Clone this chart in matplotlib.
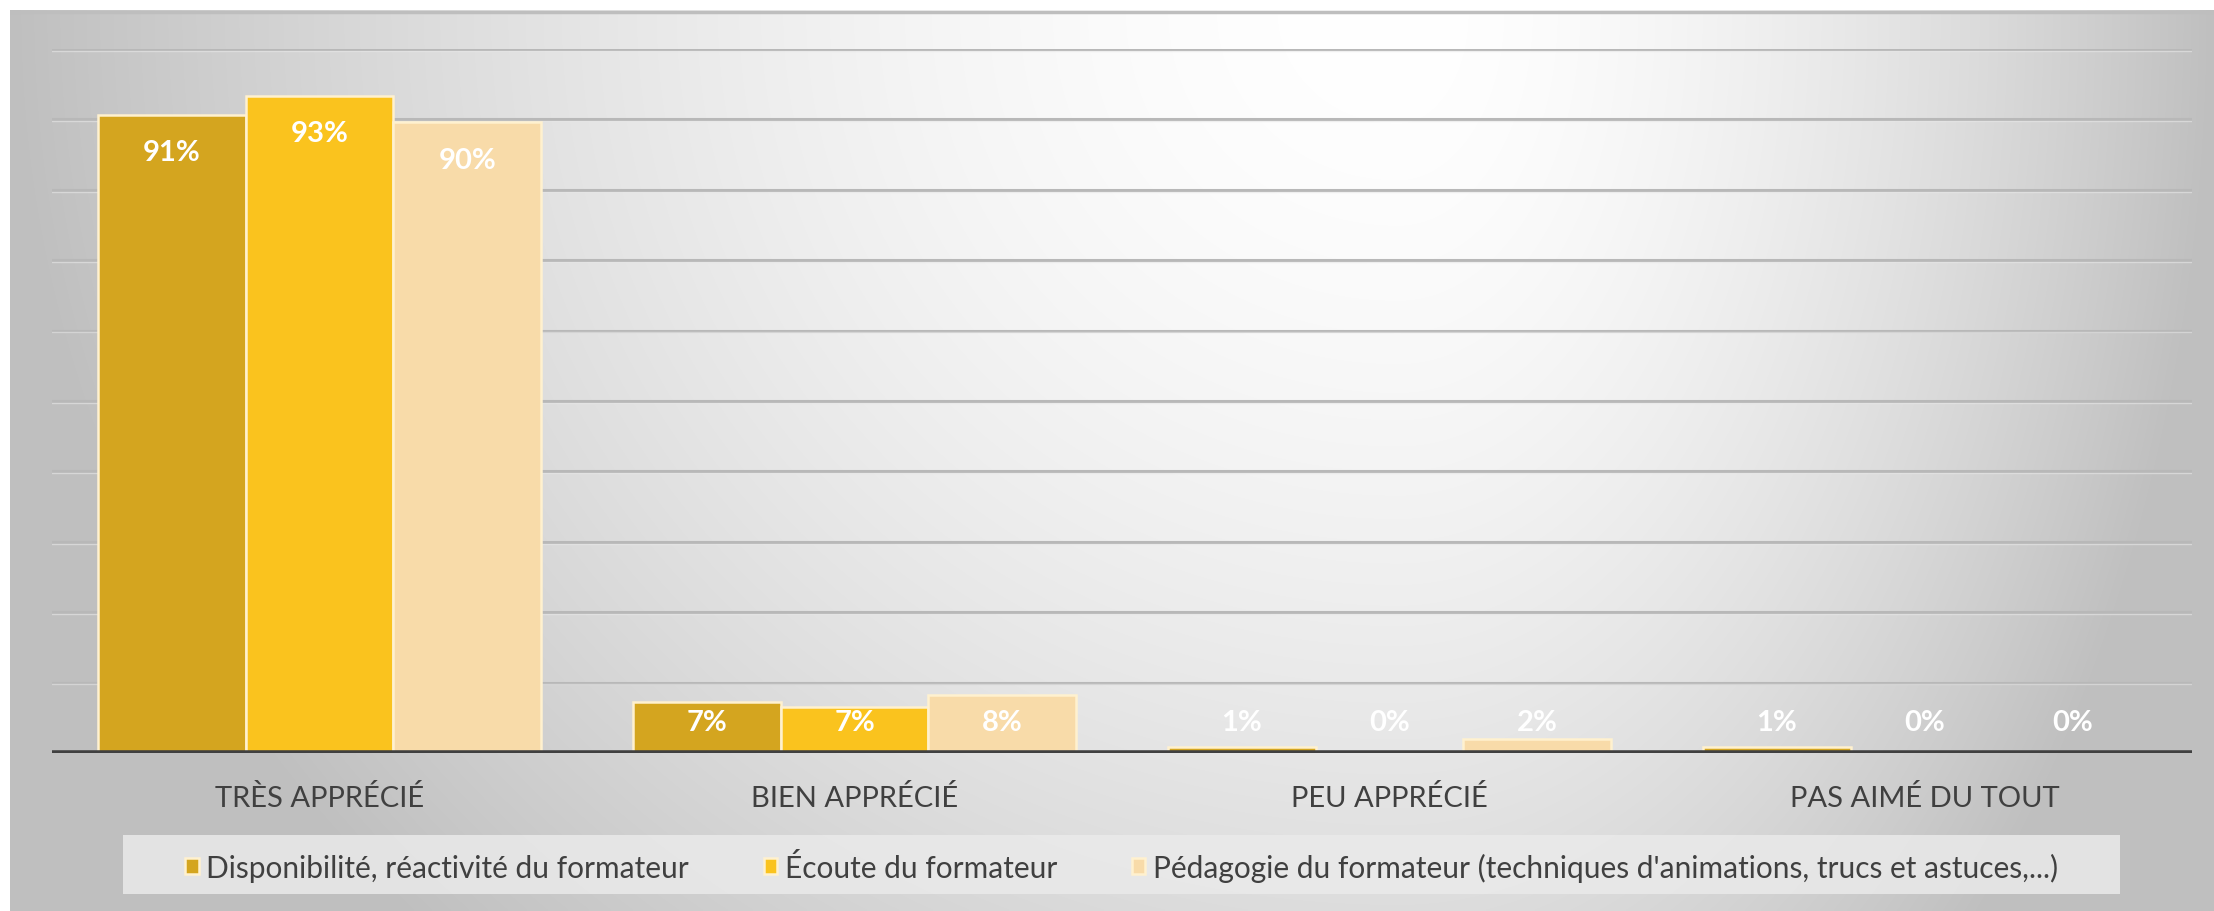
import numpy as np
import matplotlib
matplotlib.use("Agg")
import matplotlib.pyplot as plt
from matplotlib.patches import Rectangle

plt.rcParams['font.family'] = ['Lato', 'DejaVu Sans']

categories = ["TRÈS APPRÉCIÉ", "BIEN APPRÉCIÉ", "PEU APPRÉCIÉ", "PAS AIMÉ DU TOUT"]
series_names = ["Disponibilité, réactivité du formateur",
                "Écoute du formateur",
                "Pédagogie du formateur (techniques d'animations, trucs et astuces,...)"]
disponibilite = [90.6, 7.2, 0.8, 0.8]
ecoute = [93.3, 6.6, 0, 0]
pedagogie = [89.6, 8.2, 2.0, 0]
series_values = [disponibilite, ecoute, pedagogie]
colors = ["#D4A51F", "#FAC31E", "#F8DBA9"]

W, H = 2214, 912
fig = plt.figure(figsize=(W / 100, H / 100), dpi=100)
fig.patch.set_facecolor("white")

# background gradient panel
bx0, by0 = 10 / W, 0.0
bw, bh = 1 - bx0, (H - 11) / H
bg = fig.add_axes([bx0, by0, bw, bh], zorder=0)
nx, ny = 600, 300
xs = np.linspace(0, 1, nx)
ys = np.linspace(0, 1, ny)
X, Y = np.meshgrid(xs, ys)
cx = 0.63
dx = np.where(X < cx, (cx - X) / cx, (X - cx) / (1 - cx))
dy = Y / 1.44
d = np.clip(np.sqrt(dx ** 2 + dy ** 2), 0, 1)
val = 1 - 0.25 * d ** 1.7
img = np.dstack([val, val, val])
bg.imshow(img, extent=[0, 1, 1, 0], aspect='auto', interpolation='bilinear')
bg.set_xlim(0, 1)
bg.set_ylim(1, 0)
bg.axis('off')
bg.plot([0, 1], [0.002, 0.002], color="#BEBEBE", lw=2.5, solid_capstyle='butt')

# main axes
left, right = 52 / W, 2192 / W
bottom, top = (H - 754) / H, (H - 50) / H
ax = fig.add_axes([left, bottom, right - left, top - bottom], zorder=2)
ax.patch.set_alpha(0)
ax.set_xlim(-0.5, len(categories) - 0.5)
ax.set_ylim(0, 100)

for yv in range(10, 101, 10):
    ax.axhline(yv, color="#B8B8B8", lw=2.2, zorder=1)
    ax.axhline(yv - 0.25, color="#E8E8E8", lw=1.0, zorder=1, alpha=0.6)

bw_ = 0.276
x = np.arange(len(categories))
offsets = [-bw_, 0, bw_]
handles = []
for vals, col, off, name in zip(series_values, colors, offsets, series_names):
    b = ax.bar(x + off, vals, width=bw_, color=col, edgecolor="#FFF1CF",
               linewidth=1.8, zorder=3, label=name)
    handles.append(b)
    for xi, v in zip(x, vals):
        ly = max(v - 5.3, 4.4)
        ax.text(xi + off, ly, f"{round(v):d}%", ha='center', va='center',
                color='white', fontsize=21, fontweight='bold', zorder=5)

ax.axhline(0, color="#404040", lw=4, zorder=4)

for s in ax.spines.values():
    s.set_visible(False)
ax.set_yticks([])
ax.set_xticks(x)
ax.set_xticklabels(categories, fontsize=21, color="#404040")
ax.tick_params(axis='x', length=0, pad=22)

# legend box
lx0, lx1 = 123 / W, 2120 / W
ly0, ly1 = (H - 895) / H, (H - 836) / H
fig.patches.append(Rectangle((lx0, ly0), lx1 - lx0, ly1 - ly0, transform=fig.transFigure,
                             facecolor="#EAEAEA", edgecolor='none', alpha=0.85, zorder=1))
leg = fig.legend(handles=handles, labels=series_names, loc='center',
                 bbox_to_anchor=((lx0 + lx1) / 2, (ly0 + ly1) / 2 - 0.003),
                 ncol=3, frameon=False, fontsize=21.5,
                 handlelength=0.45, handleheight=0.45, handletextpad=0.25,
                 columnspacing=2.5, labelcolor="#404040")
leg.set_zorder(3)

fig.savefig("out.png", dpi=100, facecolor="white")
